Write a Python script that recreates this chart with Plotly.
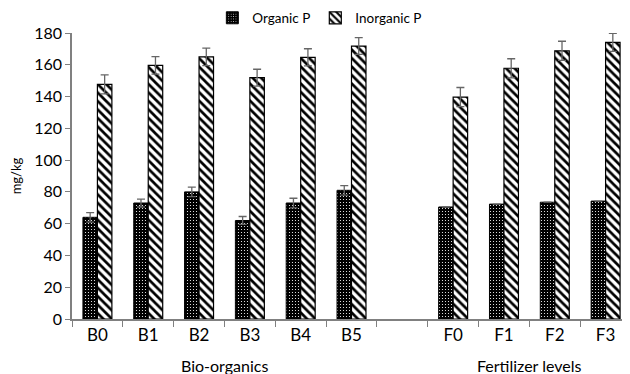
import plotly.graph_objects as go

categories = ["B0", "B1", "B2", "B3", "B4", "B5", " ", "F0", "F1", "F2", "F3"]
organic_p = [64, 73, 80, 62, 73, 81, None, 70.5, 72.3, 73.5, 74.2]
organic_err = [3, 2.5, 3, 2.5, 3, 3, None, 0, 0, 0, 0]
inorganic_p = [147.7, 159.6, 165, 151.9, 164.7, 171.8, None, 139.7, 157.8, 168.8, 174.1]
inorganic_err = [6, 5.5, 5.5, 5.3, 5.4, 5.3, None, 6, 6, 6, 5.7]
y_ticks = [0, 20, 40, 60, 80, 100, 120, 140, 160, 180]

font_family = "Lato, 'Open Sans', sans-serif"

# the page body adds an 8px offset; margins compensate for it
fig = go.Figure()
fig.add_trace(go.Bar(
    x=categories, y=organic_p, name="Organic P",
    marker=dict(color="black", line=dict(color="black", width=1),
                pattern=dict(shape=".", bgcolor="black", fgcolor="white",
                             size=3, solidity=0.12, fillmode="replace")),
    error_y=dict(type="data", array=organic_err, color="#666666", thickness=1.3, width=4),
))
fig.add_trace(go.Bar(
    x=categories, y=inorganic_p, name="Inorganic P",
    marker=dict(color="white", line=dict(color="black", width=1.2),
                pattern=dict(shape="\\", bgcolor="white", fgcolor="black",
                             size=6, solidity=0.45, fillmode="replace")),
    error_y=dict(type="data", array=inorganic_err, color="#666666", thickness=1.3, width=4),
))

fig.update_layout(
    width=630, height=374,
    margin=dict(l=64, r=7, t=25, b=63, autoexpand=False),
    paper_bgcolor="white", plot_bgcolor="white",
    barmode="group", bargap=0.43, bargroupgap=0,
    font=dict(family=font_family, size=16, color="black"),
    showlegend=True,
    legend=dict(orientation="h", xref="container", yref="container",
                x=0.495, xanchor="center", y=1 - 10 / 374, yanchor="middle",
                font=dict(size=13.5), itemwidth=30, traceorder="normal",
                tracegroupgap=0, bgcolor="rgba(0,0,0,0)"),
    xaxis=dict(
        type="category", categoryorder="array", categoryarray=categories,
        tickson="boundaries", ticks="outside", ticklen=6, tickcolor="#808080",
        showline=True, linecolor="#808080", linewidth=1.5, showgrid=False,
        tickfont=dict(size=17), range=[-0.5, 10.5], automargin=False,
    ),
    yaxis=dict(
        range=[0, 180], tickvals=y_ticks, ticks="outside", ticklen=5, tickcolor="#808080",
        showline=True, linecolor="#808080", linewidth=1.5, showgrid=False,
        zeroline=False, tickfont=dict(size=16), automargin=False,
        title=dict(text="mg/kg", font=dict(size=13), standoff=10),
    ),
    annotations=[
        dict(text="Bio-organics", x=2.5, y=-(365 - 319) / 286, xref="x", yref="paper",
             showarrow=False, yanchor="middle", font=dict(size=16)),
        dict(text="Fertilizer levels", x=8.5, y=-(365 - 319) / 286, xref="x", yref="paper",
             showarrow=False, yanchor="middle", font=dict(size=16)),
    ],
)

fig.write_html("out.html")
